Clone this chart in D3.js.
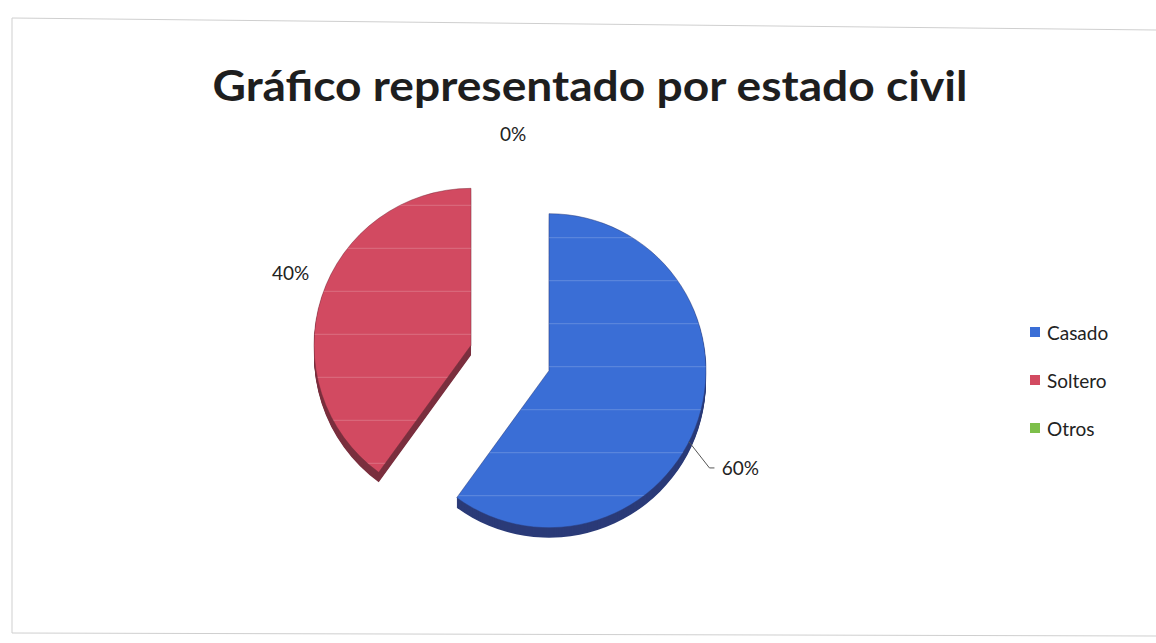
<!DOCTYPE html>
<html lang="es">
<head>
<meta charset="utf-8">
<title>Gráfico representado por estado civil</title>
<script src="https://cdn.jsdelivr.net/npm/d3@7/dist/d3.min.js"></script>
<style>
  html, body { margin: 0; padding: 0; background: #ffffff; }
  svg { display: block; }
</style>
</head>
<body>
<svg id="chart" width="1156" height="643"></svg>
<script>
// Estado civil: categorías, valores (%) y etiquetas de porcentaje
const categories = ["Casado", "Soltero", "Otros"];
const values = [60, 40, 0];
const valueLabels = ["60%", "40%", "0%"];

// Paleta (cara superior, lateral 3D)
const topColors  = ["#3a6ed6", "#d24a61", "#7dbf4a"];
const sideColors = ["#2b3b78", "#7a2f3e", "#4d7a2c"];

const W = 1156, H = 643;
const svg = d3.select("#chart");

// Marco del área del gráfico
const frame = svg.append("g").attr("fill", "none").attr("stroke", "#cfcfcf").attr("stroke-width", 1);
frame.append("line").attr("x1", 12).attr("y1", 18).attr("x2", W).attr("y2", 30);
frame.append("line").attr("x1", 12).attr("y1", 18).attr("x2", 12).attr("y2", 633);
frame.append("line").attr("x1", 12).attr("y1", 633).attr("x2", W).attr("y2", 636);

// Título
svg.append("text")
  .attr("x", 590).attr("y", 101)
  .attr("text-anchor", "middle")
  .attr("font-family", "Lato, 'Open Sans', sans-serif")
  .attr("font-weight", 700)
  .attr("font-size", 42)
  .attr("textLength", 755)
  .attr("lengthAdjust", "spacingAndGlyphs")
  .attr("fill", "#1e1e1e")
  .text("Gráfico representado por estado civil");

// Geometría de la torta
const cx = 510, cy = 358;
const radius = 157;
const explode = 41;
const depth = 10;
const labelRadius = 195;

const pie = d3.pie().sort(null).value(d => d).startAngle(0).endAngle(2 * Math.PI);
const arcs = pie(values);
const arc = d3.arc().innerRadius(0).outerRadius(radius);

const mid = d => (d.startAngle + d.endAngle) / 2;
const centerOf = d => {
  const a = mid(d);
  return [cx + explode * Math.sin(a), cy - explode * Math.cos(a)];
};

const defs = svg.append("defs");

const slices = svg.append("g");
arcs.forEach((d, i) => {
  if (d.value <= 0) return;          // un sector de 0 % no tiene superficie
  const [sx, sy] = centerOf(d);
  const g = slices.append("g").attr("transform", `translate(${sx},${sy})`);
  const path = arc(d);

  // Grosor 3D: copias desplazadas hacia abajo
  for (let k = depth; k >= 1; k--) {
    g.append("path")
      .attr("d", path)
      .attr("transform", `translate(0,${k})`)
      .attr("fill", sideColors[i]);
  }

  // Cara superior
  g.append("path")
    .attr("d", path)
    .attr("fill", topColors[i])
    .attr("stroke", sideColors[i])
    .attr("stroke-width", 0.8)
    .attr("stroke-opacity", 0.6);

  // Franjas claras horizontales sobre la cara superior
  const clipId = "clip-" + i;
  defs.append("clipPath").attr("id", clipId).append("path").attr("d", path);
  const stripes = g.append("g").attr("clip-path", `url(#${clipId})`);
  const phase = i === 0 ? -133 : -140;
  for (let y = phase; y < radius; y += 43) {
    stripes.append("line")
      .attr("x1", -radius).attr("x2", radius)
      .attr("y1", y).attr("y2", y)
      .attr("stroke", "#ffffff")
      .attr("stroke-width", 1.4)
      .attr("stroke-opacity", 0.16);
  }
});

// Etiquetas de porcentaje
const labelNudge = [[6, 37], [5, -13], [3, 11]];
const labelsG = svg.append("g")
  .attr("font-family", "Lato, 'Open Sans', sans-serif")
  .attr("font-size", 19)
  .attr("fill", "#222");

arcs.forEach((d, i) => {
  const [sx, sy] = centerOf(d);
  const a = mid(d);
  const lx = sx + labelRadius * Math.sin(a) + labelNudge[i][0];
  const ly = sy - labelRadius * Math.cos(a) + labelNudge[i][1];
  labelsG.append("text")
    .attr("x", lx).attr("y", ly)
    .attr("text-anchor", "middle")
    .attr("dominant-baseline", "central")
    .text(valueLabels[i]);

  // Línea guía cuando la etiqueta se aleja del sector
  if (i === 0) {
    const ang = Math.atan2(lx - sx, -(ly - sy));
    const px = sx + radius * Math.sin(ang);
    const py = sy - radius * Math.cos(ang);
    const tx = lx - 26;
    svg.append("polyline")
      .attr("points", `${px},${py} ${tx - 5},${ly} ${tx},${ly}`)
      .attr("fill", "none")
      .attr("stroke", "#555")
      .attr("stroke-width", 1);
  }
});

// Leyenda
const legend = svg.append("g").attr("transform", "translate(1030,332)");
categories.forEach((c, i) => {
  const row = legend.append("g").attr("transform", `translate(0,${i * 48})`);
  row.append("rect")
    .attr("x", 0).attr("y", -5)
    .attr("width", 10).attr("height", 10)
    .attr("fill", topColors[i]);
  row.append("text")
    .attr("x", 17).attr("y", 0)
    .attr("dominant-baseline", "central")
    .attr("font-family", "Lato, 'Open Sans', sans-serif")
    .attr("font-size", 19)
    .attr("fill", "#222")
    .text(c);
});
</script>
</body>
</html>
